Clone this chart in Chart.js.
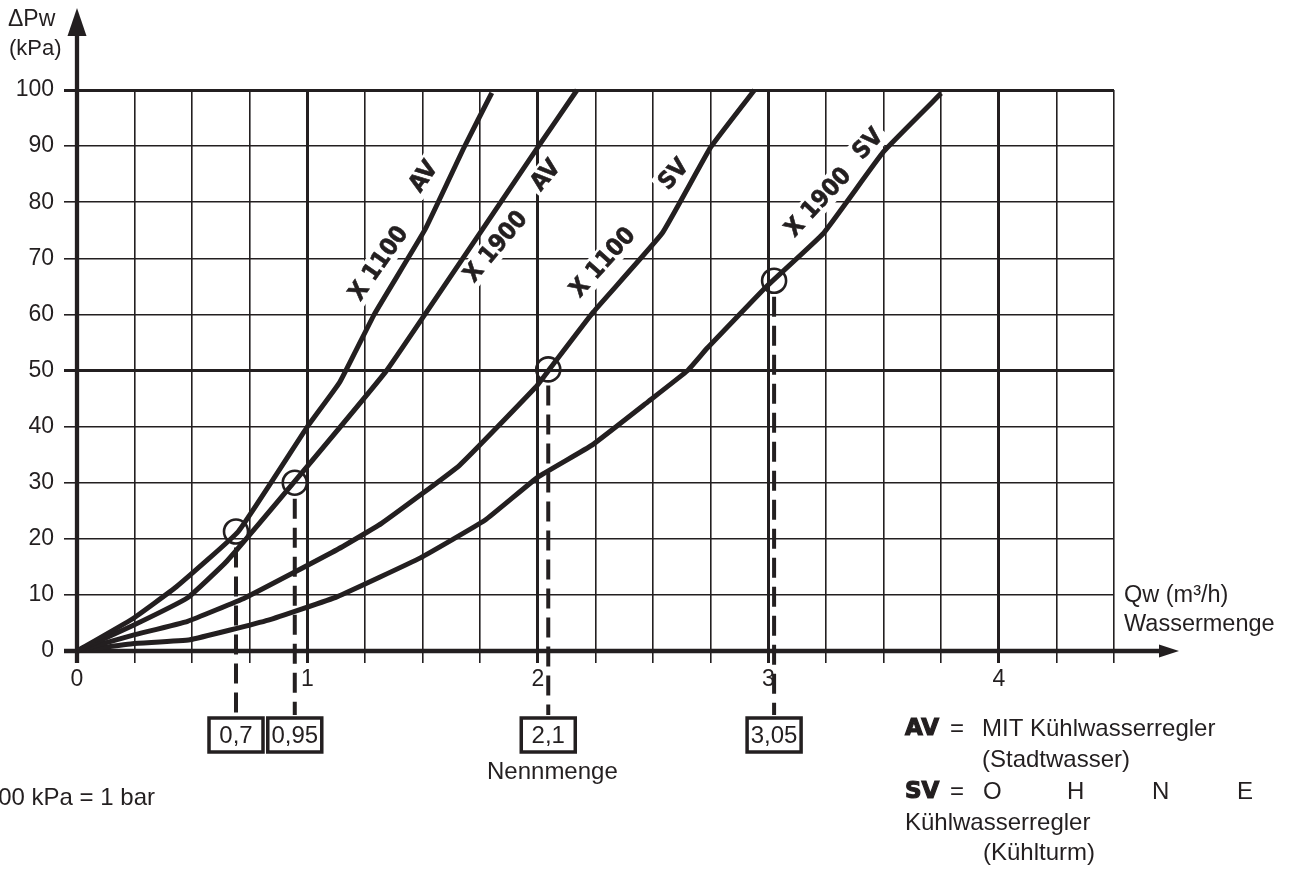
<!DOCTYPE html>
<html>
<head>
<meta charset="utf-8">
<script src="https://cdn.jsdelivr.net/npm/chart.js@4.4.1/dist/chart.umd.min.js"></script>
<style>
  body { margin: 0; background: #fff; }
  canvas { display: block; }
</style>
</head>
<body>
<canvas id="chart" width="1292" height="870"></canvas>
<script>
const INK = '#231f20';
const SANS = '"Liberation Sans", Arial, Helvetica, sans-serif';
const NARROW = '"Liberation Sans Narrow", "Arial Narrow", "Liberation Sans", Arial, sans-serif';

// Qw (m3/h) and dPw (kPa)
const x1100AvQ = [0, 0.24, 0.43, 0.70, 1.00, 1.14, 1.29, 1.51, 1.68, 1.80];
const x1100AvP = [0, 5.7, 11.4, 21.3, 40, 47.9, 60, 75.1, 89.8, 99.5];

const x1900AvQ = [0, 0.24, 0.48, 0.65, 0.94, 1.34, 1.51, 2.0, 2.17];
const x1900AvP = [0, 4.5, 9.5, 16, 30, 49.8, 60, 89.8, 100];

const x1100SvQ = [0, 0.24, 0.48, 0.73, 1.13, 1.32, 1.66, 1.99, 2.05, 2.24, 2.54, 2.75, 2.94];
const x1100SvP = [0, 2.8, 5.3, 9.5, 18.1, 22.7, 33.1, 47, 50.2, 60.4, 74.5, 89.8, 100];

const x1900SvQ = [0, 0.24, 0.49, 0.83, 1.13, 1.49, 1.77, 2.0, 2.235, 2.48, 2.65, 2.735, 2.99, 3.24, 3.50, 3.75];
const x1900SvP = [0, 1.3, 2, 5.5, 9.7, 16.6, 23.3, 31, 36.7, 44.5, 50, 54, 64.9, 74.5, 89, 99.4];

// operating points (circles) and their boxed values
const pointQ = [0.69, 0.945, 2.045, 3.025];
const pointP = [21.3, 30, 50.2, 66];
const pointText = ['0,7', '0,95', '2,1', '3,05'];

const curveNames = ['X 1100', 'AV', 'X 1900', 'AV', 'X 1100', 'SV', 'X 1900', 'SV'];

function toXY(qs, ps) {
  return qs.map((q, i) => ({ x: q, y: ps[i] }));
}

function curve(qs, ps) {
  return {
    data: toXY(qs, ps),
    showLine: true,
    borderColor: INK,
    borderWidth: 5,
    borderJoinStyle: 'round',
    pointRadius: 0,
    tension: 0.1,
    clip: false
  };
}

// where the curve names sit (data coords) and how they are turned
const labelSpots = [
  [1.308, 69.1, -55], [1.503, 84.6, -55],
  [1.816, 72.1, -50], [2.033, 84.8, -50],
  [2.281, 69.3, -48], [2.589, 85.0, -48],
  [3.215, 80.0, -47], [3.432, 90.4, -47]
];

function text(ctx, s, x, y, font, align, heavy) {
  ctx.font = font;
  ctx.textAlign = align || 'left';
  ctx.textBaseline = 'middle';
  ctx.fillStyle = INK;
  ctx.fillText(s, x, y);
  if (heavy) {
    ctx.strokeStyle = INK;
    ctx.lineWidth = heavy;
    ctx.strokeText(s, x, y);
  }
}

const decor = {
  id: 'decor',
  beforeDatasetsDraw(chart) {
    const { ctx, scales: { x, y } } = chart;
    const x0 = x.getPixelForValue(0);
    const y0 = y.getPixelForValue(0);
    ctx.save();
    ctx.strokeStyle = INK;
    ctx.fillStyle = INK;

    // curve names, knocked out of the grid
    ctx.font = 'bold 24px "DejaVu Sans Condensed", "DejaVu Sans", ' + SANS;
    curveNames.forEach((name, i) => {
      const [q, p, a] = labelSpots[i];
      const w = ctx.measureText(name).width;
      ctx.save();
      ctx.translate(x.getPixelForValue(q), y.getPixelForValue(p));
      ctx.rotate(a * Math.PI / 180);
      ctx.fillStyle = '#fff';
      ctx.fillRect(-w / 2 - 4, -13, w + 8, 26);
      ctx.fillStyle = INK;
      ctx.textAlign = 'center';
      ctx.textBaseline = 'middle';
      ctx.fillText(name, 0, 1);
      ctx.lineWidth = 0.6;
      ctx.strokeText(name, 0, 1);
      ctx.restore();
    });

    // axes with arrows
    ctx.lineWidth = 4.3;
    ctx.beginPath();
    ctx.moveTo(x0, y0 + 12);
    ctx.lineTo(x0, 30);
    ctx.moveTo(x0 - 13, y0);
    ctx.lineTo(1162, y0);
    ctx.stroke();
    ctx.beginPath();
    ctx.moveTo(x0, 8);
    ctx.lineTo(x0 - 9.5, 36);
    ctx.lineTo(x0 + 9.5, 36);
    ctx.closePath();
    ctx.fill();
    ctx.beginPath();
    ctx.moveTo(1179, y0);
    ctx.lineTo(1159, y0 - 6.5);
    ctx.lineTo(1159, y0 + 6.5);
    ctx.closePath();
    ctx.fill();
    ctx.restore();
  },
  afterDatasetsDraw(chart) {
    const { ctx, scales: { x, y } } = chart;
    const y0 = y.getPixelForValue(0);
    ctx.save();
    ctx.strokeStyle = INK;

    // dashed leaders down to the boxed values
    pointQ.forEach((q, i) => {
      const px = x.getPixelForValue(q);
      const py = y.getPixelForValue(pointP[i]);
      ctx.strokeStyle = INK;
      ctx.lineWidth = 4;
      ctx.setLineDash([20, 9]);
      ctx.beginPath();
      ctx.moveTo(px, py + 16);
      ctx.lineTo(px, y0 + 64);
      ctx.stroke();
      ctx.setLineDash([]);
      ctx.lineWidth = 3.5;
      ctx.fillStyle = '#fff';
      ctx.fillRect(px - 27, y0 + 67, 54, 34);
      ctx.strokeRect(px - 27, y0 + 67, 54, 34);
      text(ctx, pointText[i], px, y0 + 85, '24px ' + NARROW, 'center');
    });
    ctx.restore();
  },
  afterDraw(chart) {
    const { ctx } = chart;
    ctx.save();
    text(ctx, '\u0394Pw', 8, 20, '23px ' + SANS);
    text(ctx, '(kPa)', 9, 49, '22px ' + SANS);
    text(ctx, 'Qw (m\u00b3/h)', 1124, 596, '23.5px ' + SANS);
    text(ctx, 'Wassermenge', 1124, 625, '23.5px ' + SANS);
    text(ctx, 'Nennmenge', 487, 772, '24px ' + SANS);
    text(ctx, '100 kPa = 1 bar', 155, 798, '24px ' + SANS, 'right');

    const heavy = 'bold 23px "DejaVu Sans", ' + SANS;
    const body = '24px ' + SANS;
    text(ctx, 'AV', 905, 729, heavy, 'left', 1.2);
    text(ctx, '=', 950, 729, body);
    text(ctx, 'MIT K\u00fchlwasserregler', 982, 729, body);
    text(ctx, '(Stadtwasser)', 982, 760, body);
    text(ctx, 'SV', 905, 792, heavy, 'left', 1.2);
    text(ctx, '=', 950, 792, body);
    text(ctx, 'O', 983, 792, body);
    text(ctx, 'H', 1067, 792, body);
    text(ctx, 'N', 1152, 792, body);
    text(ctx, 'E', 1237, 792, body);
    text(ctx, 'K\u00fchlwasserregler', 905, 823, body);
    text(ctx, '(K\u00fchlturm)', 983, 853, body);
    ctx.restore();
  }
};

const ctx = document.getElementById('chart').getContext('2d');

new Chart(ctx, {
  type: 'scatter',
  data: {
    datasets: [
      curve(x1100AvQ, x1100AvP),
      curve(x1900AvQ, x1900AvP),
      curve(x1100SvQ, x1100SvP),
      curve(x1900SvQ, x1900SvP),
      {
        data: toXY(pointQ, pointP),
        pointStyle: 'circle',
        pointRadius: 12,
        pointBorderWidth: 2.6,
        pointBorderColor: INK,
        pointBackgroundColor: 'rgba(0,0,0,0)',
        showLine: false,
        clip: false
      }
    ]
  },
  options: {
    responsive: false,
    animation: false,
    layout: { padding: { left: 0, top: 90, right: 178, bottom: 179 } },
    plugins: { legend: { display: false }, tooltip: { enabled: false } },
    scales: {
      x: {
        type: 'linear',
        min: 0,
        max: 4.5,
        afterFit: (s) => { s.height = 40; },
        border: { display: false },
        grid: {
          color: INK,
          tickLength: 12,
          lineWidth: (c) => {
            const v = c.tick ? c.tick.value : 0;
            if (v === 0) return 0;
            return Number.isInteger(v) ? 3 : 1.6;
          }
        },
        ticks: {
          stepSize: 0.25,
          autoSkip: false,
          maxRotation: 0,
          padding: 3,
          color: INK,
          font: { family: NARROW, size: 23 },
          callback: (v) => Number.isInteger(v) ? String(v) : ''
        }
      },
      y: {
        min: 0,
        max: 100,
        afterFit: (s) => { s.width = 77; },
        border: { display: false },
        grid: {
          color: INK,
          tickLength: 13,
          lineWidth: (c) => {
            const v = c.tick ? c.tick.value : 0;
            if (v === 0) return 0;
            return (v === 50 || v === 100) ? 3 : 1.6;
          }
        },
        ticks: {
          stepSize: 10,
          padding: 10,
          color: INK,
          font: { family: NARROW, size: 23 }
        }
      }
    }
  },
  plugins: [decor]
});
</script>
</body>
</html>
